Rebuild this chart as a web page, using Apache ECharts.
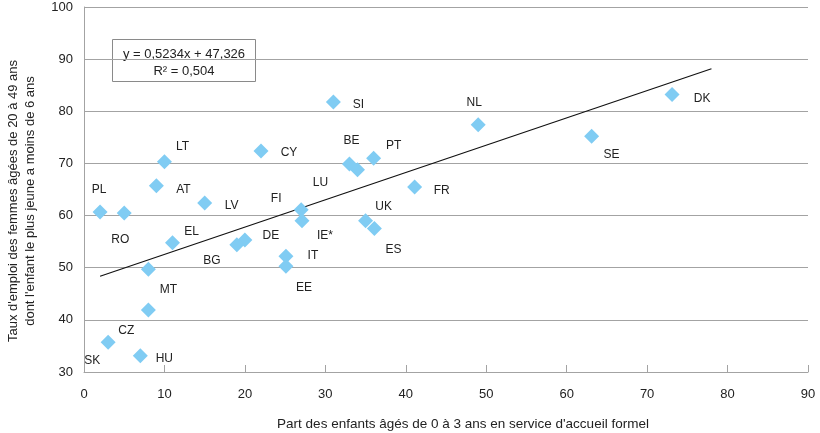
<!DOCTYPE html>
<html>
<head>
<meta charset="utf-8">
<script src="https://cdn.jsdelivr.net/npm/echarts@6/dist/echarts.min.js"></script>
<style>
html,body{margin:0;padding:0;background:#fff;}
#chart{width:820px;height:433px;}
</style>
</head>
<body>
<div id="chart"></div>
<script>
// ---- Data ----
var countries = ['PL','RO','AT','LT','LV','EL','DE','BG','MT','CZ','SK','HU','CY','SI','LU','BE','PT','FI','IE*','IT','EE','UK','ES','FR','NL','SE','DK'];
var childcareShare = [2, 5, 9, 10, 15, 11, 20, 19, 8, 8, 3, 7, 22, 31, 33, 34, 36, 27, 27.1, 25.1, 25.1, 35, 36.1, 41.1, 49, 63.1, 73.1];
var employmentRate = [60.7, 60.5, 65.7, 70.3, 62.4, 54.8, 55.3, 54.4, 49.7, 41.9, 35.7, 33.1, 72.4, 81.8, 69.9, 68.8, 71.0, 61.1, 59.0, 52.2, 50.3, 59.0, 57.5, 65.5, 77.4, 75.2, 83.2];
var trendSlope = 0.5234;
var trendIntercept = 47.326;
var trendXRange = [2, 78];
var xTicks = [0, 90, 10];
var yTicks = [30, 100, 10];
var equationText = ['y = 0,5234x + 47,326', 'R² = 0,504'];
var xTitle = "Part des enfants âgés de 0 à 3 ans en service d'accueil formel";
var yTitle = "Taux d'emploi des femmes âgées de 20 à 49 ans\ndont l'enfant le plus jeune a moins de 6 ans";

// ---- Label placement (style, px offsets from each marker) ----
var labelOffsets = {
  'PL':[-1,-22],'RO':[-4,27],'AT':[27,4],'LT':[18,-15],'LV':[27,3],'EL':[19,-11],
  'DE':[26,-4],'BG':[-25,16],'MT':[20,20],'CZ':[-22,21],'SK':[-16,18],'HU':[24,3],
  'CY':[28,2],'SI':[25,3],'LU':[-29,19],'BE':[-6,-29],'PT':[20,-13],'FI':[-25,-11],
  'IE*':[23,15],'IT':[27,-1],'EE':[18,22],'UK':[18,-14],'ES':[19,21],'FR':[27,4],
  'NL':[-4,-22],'SE':[20,18],'DK':[30,4]
};

var textColor = '#222';
var gridColor = '#a3a3a3';
var fontFam = 'Liberation Sans';

var scatterData = countries.map(function(c, i){
  return {
    name: c,
    value: [childcareShare[i], employmentRate[i]],
    label: { offset: labelOffsets[c] || [0,0] }
  };
});
var trendData = trendXRange.map(function(x){ return [x, trendSlope * x + trendIntercept]; });

var chart = echarts.init(document.getElementById('chart'), null, {renderer:'canvas'});
chart.setOption({
  animation: false,
  backgroundColor: '#fff',
  grid: { left: 84, right: 12, top: 7, bottom: 61, containLabel: false, outerBoundsMode: 'none' },
  xAxis: {
    type: 'value', min: xTicks[0], max: xTicks[1], interval: xTicks[2],
    name: xTitle, nameLocation: 'middle', nameGap: 45,
    nameTextStyle: { color: textColor, fontSize: 13.5, fontFamily: fontFam, padding: [0,0,0,34] },
    axisLine: { show: true, lineStyle: { color: gridColor, width: 1 } },
    axisTick: { show: true, inside: true, length: 7, lineStyle: { color: gridColor } },
    axisLabel: { color: textColor, fontSize: 13, fontFamily: fontFam, margin: 16 },
    splitLine: { show: false }
  },
  yAxis: {
    type: 'value', min: yTicks[0], max: yTicks[1], interval: yTicks[2],
    name: yTitle, nameLocation: 'middle', nameGap: 45, nameRotate: 90,
    nameTextStyle: { color: textColor, fontSize: 13, fontFamily: fontFam, lineHeight: 17, padding: [0,23,0,0] },
    axisLine: { show: true, lineStyle: { color: gridColor, width: 1 } },
    axisTick: { show: false },
    axisLabel: { color: textColor, fontSize: 13, fontFamily: fontFam, margin: 11 },
    splitLine: { show: true, lineStyle: { color: gridColor, width: 1 } }
  },
  series: [
    {
      type: 'line', data: trendData, showSymbol: false, symbol: 'none',
      lineStyle: { color: '#111', width: 1.2 }, z: 2, silent: true
    },
    {
      type: 'scatter', data: scatterData, symbol: 'diamond', symbolSize: 15,
      itemStyle: { color: '#80ccf3', opacity: 1 }, z: 3,
      label: {
        show: true, position: 'inside', formatter: '{b}',
        color: textColor, fontSize: 12, fontFamily: fontFam,
        align: 'center', verticalAlign: 'middle'
      }
    }
  ],
  graphic: [
    {
      type: 'group', left: 112, top: 39, z: 10,
      children: [
        { type: 'rect', shape: { x: 0, y: 0, width: 143, height: 42 },
          style: { fill: '#fff', stroke: '#8a8a8a', lineWidth: 1 } },
        { type: 'text', x: 71.5, y: 15, style: { text: equationText[0], fill: textColor,
          font: '13px "' + fontFam + '"', textAlign: 'center', textVerticalAlign: 'middle' } },
        { type: 'text', x: 71.5, y: 32, style: { text: equationText[1], fill: textColor,
          font: '13px "' + fontFam + '"', textAlign: 'center', textVerticalAlign: 'middle' } }
      ]
    }
  ]
});
</script>
</body>
</html>
